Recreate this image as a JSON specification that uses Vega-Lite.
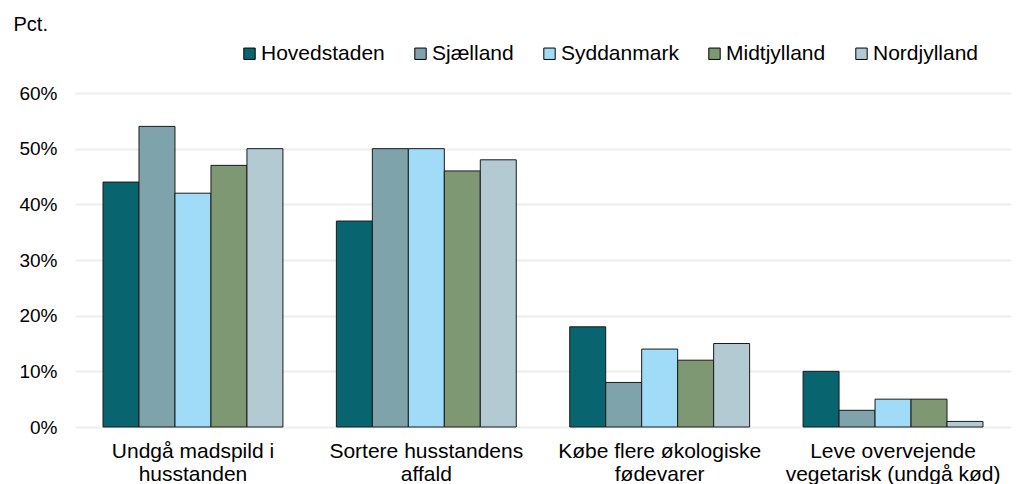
{
  "$schema": "https://vega.github.io/schema/vega-lite/v6.json",
  "autosize": {"type": "none"},
  "width": 936,
  "height": 334,
  "padding": {"left": 75, "top": 93, "right": 8, "bottom": 57},
  "background": "white",
  "config": {
    "font": "Liberation Sans",
    "view": {"stroke": null},
    "axis": {"labelFont": "Liberation Sans", "titleFont": "Liberation Sans", "labelColor": "#000000", "titleColor": "#000000"}
  },
  "data": {
    "values": [
      {"kategori": "Undgå madspild i\nhusstanden", "region": "Hovedstaden", "pct": 0.44},
      {"kategori": "Undgå madspild i\nhusstanden", "region": "Sjælland", "pct": 0.54},
      {"kategori": "Undgå madspild i\nhusstanden", "region": "Syddanmark", "pct": 0.42},
      {"kategori": "Undgå madspild i\nhusstanden", "region": "Midtjylland", "pct": 0.47},
      {"kategori": "Undgå madspild i\nhusstanden", "region": "Nordjylland", "pct": 0.50},
      {"kategori": "Sortere husstandens\naffald", "region": "Hovedstaden", "pct": 0.37},
      {"kategori": "Sortere husstandens\naffald", "region": "Sjælland", "pct": 0.50},
      {"kategori": "Sortere husstandens\naffald", "region": "Syddanmark", "pct": 0.50},
      {"kategori": "Sortere husstandens\naffald", "region": "Midtjylland", "pct": 0.46},
      {"kategori": "Sortere husstandens\naffald", "region": "Nordjylland", "pct": 0.48},
      {"kategori": "Købe flere økologiske\nfødevarer", "region": "Hovedstaden", "pct": 0.18},
      {"kategori": "Købe flere økologiske\nfødevarer", "region": "Sjælland", "pct": 0.08},
      {"kategori": "Købe flere økologiske\nfødevarer", "region": "Syddanmark", "pct": 0.14},
      {"kategori": "Købe flere økologiske\nfødevarer", "region": "Midtjylland", "pct": 0.12},
      {"kategori": "Købe flere økologiske\nfødevarer", "region": "Nordjylland", "pct": 0.15},
      {"kategori": "Leve overvejende\nvegetarisk (undgå kød)", "region": "Hovedstaden", "pct": 0.10},
      {"kategori": "Leve overvejende\nvegetarisk (undgå kød)", "region": "Sjælland", "pct": 0.03},
      {"kategori": "Leve overvejende\nvegetarisk (undgå kød)", "region": "Syddanmark", "pct": 0.05},
      {"kategori": "Leve overvejende\nvegetarisk (undgå kød)", "region": "Midtjylland", "pct": 0.05},
      {"kategori": "Leve overvejende\nvegetarisk (undgå kød)", "region": "Nordjylland", "pct": 0.01}
    ]
  },
  "mark": {"type": "bar", "stroke": "#1a1a1a", "strokeWidth": 1},
  "encoding": {
    "x": {
      "field": "kategori",
      "type": "nominal",
      "sort": null,
      "scale": {"paddingInner": 0.229, "paddingOuter": 0.12},
      "axis": {
        "title": null,
        "labelAngle": 0,
        "labelFontSize": 21,
        "labelPadding": 13,
        "labelLineHeight": 23,
        "labelExpr": "split(datum.label, '\\n')",
        "ticks": false,
        "domain": false,
        "labelLimit": 300
      }
    },
    "xOffset": {"field": "region", "type": "nominal", "sort": ["Hovedstaden", "Sjælland", "Syddanmark", "Midtjylland", "Nordjylland"]},
    "y": {
      "field": "pct",
      "type": "quantitative",
      "scale": {"domain": [0, 0.6]},
      "axis": {
        "title": "Pct.",
        "titleAngle": 0,
        "titleAlign": "left",
        "titleBaseline": "alphabetic",
        "titleX": -62,
        "titleY": -63,
        "titleFontSize": 20,
        "titleFontWeight": "normal",
        "format": ".0%",
        "values": [0, 0.1, 0.2, 0.3, 0.4, 0.5, 0.6],
        "labelFontSize": 19,
        "labelPadding": 18,
        "ticks": false,
        "domain": false,
        "grid": true,
        "gridColor": "#eeeeee",
        "gridWidth": 2
      }
    },
    "color": {
      "field": "region",
      "type": "nominal",
      "sort": ["Hovedstaden", "Sjælland", "Syddanmark", "Midtjylland", "Nordjylland"],
      "scale": {
        "domain": ["Hovedstaden", "Sjælland", "Syddanmark", "Midtjylland", "Nordjylland"],
        "range": ["#08646e", "#7fa3ab", "#a0dcf7", "#7d9873", "#b3cad3"]
      },
      "legend": {
        "title": null,
        "orient": "none",
        "direction": "horizontal",
        "legendX": 164,
        "legendY": -50,
        "symbolType": "square",
        "symbolSize": 130,
        "symbolStrokeColor": "#000000",
        "symbolStrokeWidth": 1,
        "labelFontSize": 21,
        "labelColor": "#000000",
        "labelOffset": 1,
        "columnPadding": 25,
        "labelLimit": 300
      }
    }
  }
}
